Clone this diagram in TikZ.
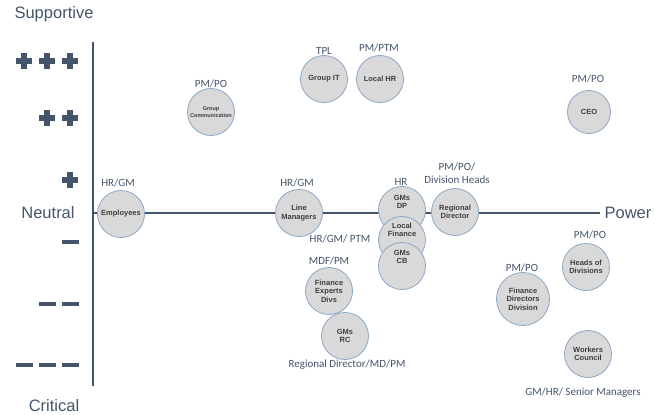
\documentclass[tikz,border=0pt]{standalone}
\usepackage{fontspec}
\setmainfont{Liberation Sans}
\newfontfamily\rolefont{Carlito}
\usepackage{tikz}
\usetikzlibrary{positioning}
\definecolor{AxisSlate}{HTML}{44546A}
\definecolor{BubbleFill}{HTML}{D9D9D9}
\definecolor{BubbleEdge}{HTML}{8CA6C6}
\definecolor{BubbleInk}{HTML}{3F3F3F}

\begin{document}
\begin{tikzpicture}[x=1pt,y=-1pt,
		bubble/.style={circle,draw=BubbleEdge,fill=BubbleFill,line width=0.8pt,minimum size=47pt,inner sep=0pt,align=center,text=BubbleInk,font=\bfseries\fontsize{7.5}{8.5}\selectfont},
		inbubble/.style={align=center,inner sep=0pt,text=BubbleInk,font=\bfseries\fontsize{7.5}{8.5}\selectfont},
		role/.style={align=center,inner sep=0pt,text=AxisSlate,font=\rolefont\fontsize{11}{13}\selectfont},
		axislabel/.style={inner sep=0pt,text=AxisSlate,font=\fontsize{16.5}{18}\selectfont}]
		\useasboundingbox (0,0) rectangle (654,415);

		% axes
		\coordinate (top) at (93,42);
		\coordinate (bottom) at (93,386);
		\coordinate (left) at (93,213);
		\coordinate (right) at (600,213);
		\draw[AxisSlate,line width=2pt] (top) -- (bottom);
		\draw[AxisSlate,line width=2pt] (left) -- (right);

		\node[axislabel] (supportive) at (54,14) {Supportive};
		\node[axislabel] (neutral) at (48,213) {Neutral};
		\node[axislabel] (critical) at (54,406) {Critical};
		\node[axislabel] (power) at (628,213) {Power};

		% plus and minus marks
		\foreach \n/\y in {3/61,2/118,1/180}
			\foreach \k in {1,...,\n} {
				\pgfmathsetmacro{\cx}{70-23*(\k-1)}
				\fill[AxisSlate] ({\cx-8},{\y-2.8}) rectangle ({\cx+8},{\y+2.8});
				\fill[AxisSlate] ({\cx-2.8},{\y-8}) rectangle ({\cx+2.8},{\y+8});
			}
		\foreach \n/\y in {1/242,2/304,3/365}
			\foreach \k in {1,...,\n} {
				\pgfmathsetmacro{\cx}{70-23*(\k-1)}
				\fill[AxisSlate] ({\cx-8.5},{\y-2.3}) rectangle ({\cx+8.5},{\y+2.3});
			}

		% stakeholders
		\node[bubble] (emp) at (121,214) {Employees};
		\node[bubble] (linemgr) at (299,213) {Line\\Managers};
		\node[bubble,font=\bfseries\fontsize{5.5}{6.5}\selectfont] (groupcomm) at (211,112) {Group\\Communication};
		\node[bubble] (groupit) at (324,79) {Group IT};
		\node[bubble] (localhr) at (380,79) {Local HR};
		\node[bubble,minimum size=43pt] (ceo) at (589,112) {CEO};
		\node[bubble] (regdir) at (455,212) {Regional\\Director};
		\node[bubble] (gmsdp) at (402,210) {};
		\node[inbubble] (gmsdptext) at ([yshift=8pt]gmsdp.center) {GMs\\DP};
		\node[bubble] (locfin) at (402,240) {};
		\node[inbubble] (locfintext) at ([yshift=10pt]locfin.center) {Local\\Finance};
		\node[bubble] (gmscb) at (402,266) {};
		\node[inbubble] (gmscbtext) at ([yshift=9pt]gmscb.center) {GMs\\CB};
		\node[bubble] (finexp) at (329,291) {Finance\\Experts\\Divs};
		\node[bubble] (gmsrc) at (345,336) {GMs\\RC};
		\node[bubble] (headsdiv) at (586,267) {Heads of\\Divisions};
		\node[bubble,minimum size=53pt] (findir) at (523,299) {Finance\\Directors\\Division};
		\node[bubble] (workers) at (588,354) {Workers\\Council};

		% owners
		\node[role] (emprole) at (118,183) {HR/GM};
		\node[role] (linemgrrole) at (297,183) {HR/GM};
		\node[role] (groupcommrole) at (211,84) {PM/PO};
		\node[role] (groupitrole) at (324,51) {TPL};
		\node[role] (localhrrole) at (379,48) {PM/PTM};
		\node[role] (ceorole) at (588,79) {PM/PO};
		\node[role] (gmsdprole) at (401,182) {HR};
		\node[role] (regdirrole) at (457,173) {PM/PO/\\Division Heads};
		\node[role] (locfinrole) at (340,239) {HR/GM/ PTM};
		\node[role] (finexprole) at (329,261) {MDF/PM};
		\node[role] (gmsrcrole) at (347,365) {Regional Director/MD/PM};
		\node[role] (headsdivrole) at (590,235) {PM/PO};
		\node[role] (findirrole) at (522,268) {PM/PO};
		\node[role] (workersrole) at (583,393) {GM/HR/ Senior Managers};
	\end{tikzpicture}
\end{document}
